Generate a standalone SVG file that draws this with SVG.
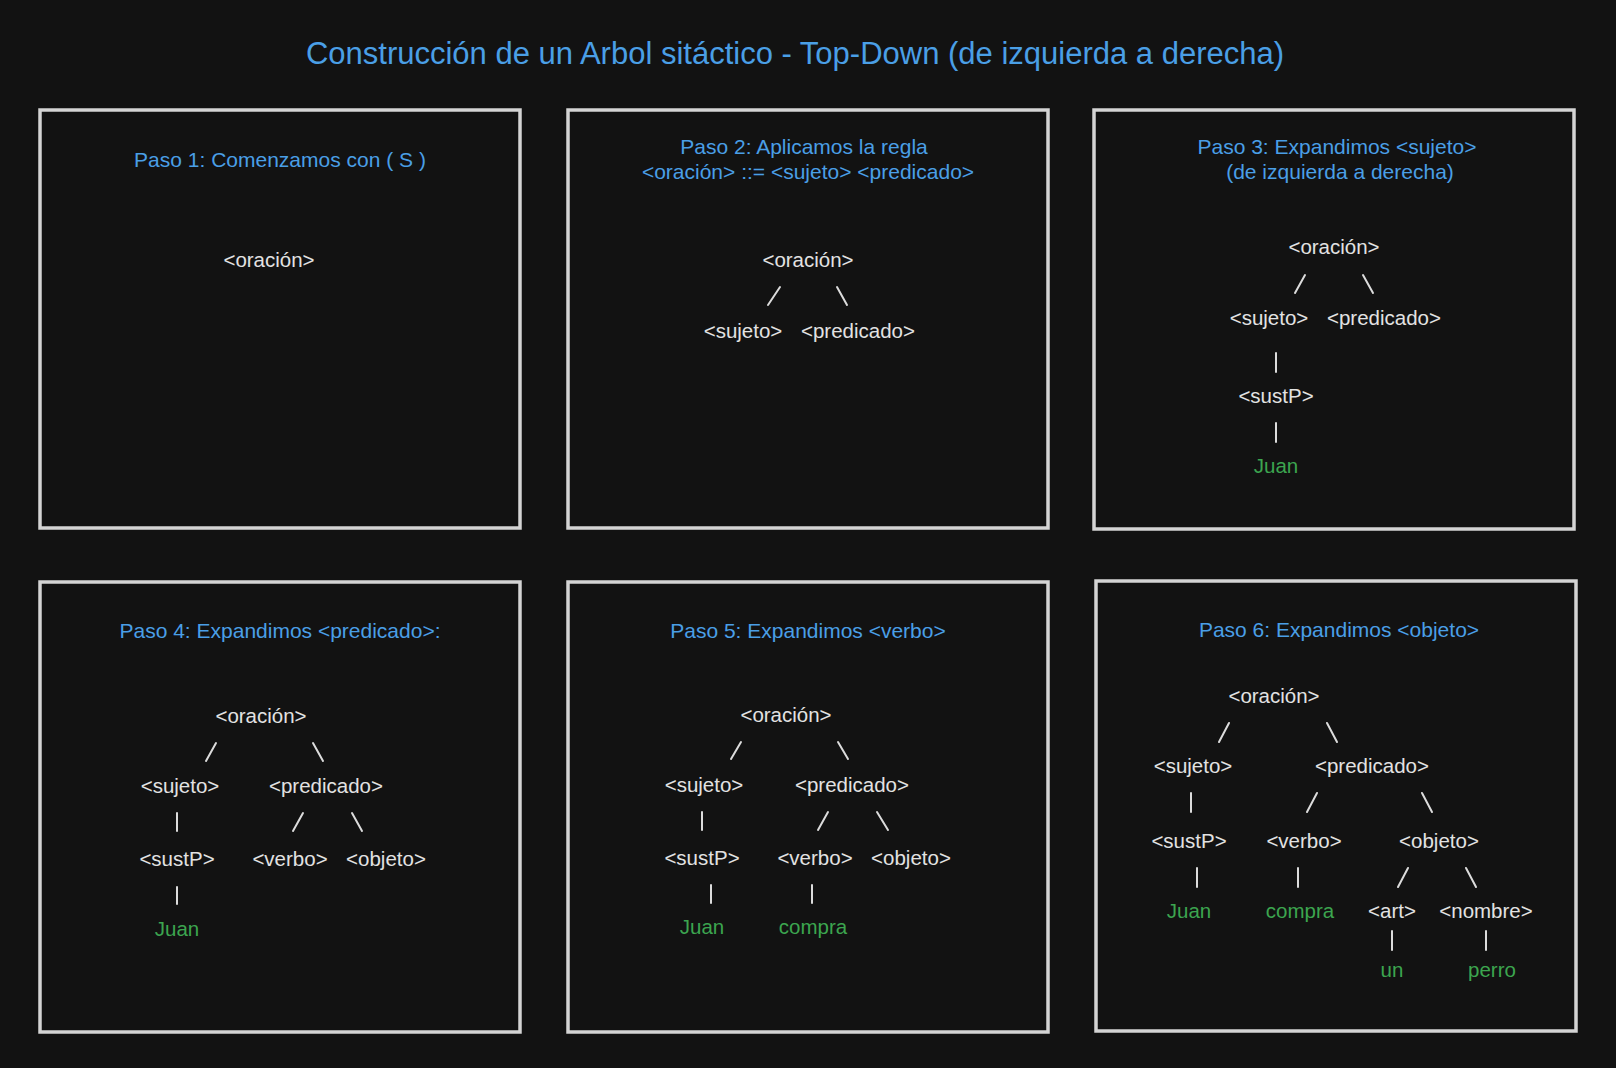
<svg xmlns="http://www.w3.org/2000/svg" width="1616" height="1068" viewBox="0 0 1616 1068">
<style>
.bg{fill:#121212}
.frame{fill:#121212;stroke:#d4d4d4;stroke-width:3.5}
.title{font-family:"Liberation Sans",Arial,sans-serif;font-size:31px;fill:#4a9fe6;text-anchor:middle}
.step{font-family:"Liberation Sans",Arial,sans-serif;font-size:21px;fill:#4a9fe6;text-anchor:middle}
.n{font-family:"Liberation Sans",Arial,sans-serif;font-size:20.5px;fill:#e2e2e2;text-anchor:middle}
.t{font-family:"Liberation Sans",Arial,sans-serif;font-size:20.5px;fill:#3ca54f;text-anchor:middle}
.c line{stroke:#dcdcdc;stroke-width:2;stroke-linecap:round}
</style>
<rect class="bg" x="0" y="0" width="1616" height="1068"/>
<text id="main-title" class="title" x="795" y="64">Construcción de un Arbol sitáctico - Top-Down (de izquierda a derecha)</text>

<g id="panel-1">
<rect class="frame" x="40" y="110" width="480" height="418"/>
<text class="step" x="280" y="167">Paso 1: Comenzamos con ( S )</text>
</g>
<g id="panel-2">
<rect class="frame" x="568" y="110" width="480" height="418"/>
<text class="step" x="804" y="154">Paso 2: Aplicamos la regla</text>
<text class="step" x="808" y="179">&lt;oración&gt; ::= &lt;sujeto&gt; &lt;predicado&gt;</text>
</g>
<g id="panel-3">
<rect class="frame" x="1094" y="110" width="480" height="419"/>
<text class="step" x="1337" y="154">Paso 3: Expandimos &lt;sujeto&gt;</text>
<text class="step" x="1340" y="179">(de izquierda a derecha)</text>
</g>
<g id="panel-4">
<rect class="frame" x="40" y="582" width="480" height="450"/>
<text class="step" x="280" y="638">Paso 4: Expandimos &lt;predicado&gt;:</text>
</g>
<g id="panel-5">
<rect class="frame" x="568" y="582" width="480" height="450"/>
<text class="step" x="808" y="638">Paso 5: Expandimos &lt;verbo&gt;</text>
</g>
<g id="panel-6">
<rect class="frame" x="1096" y="581" width="480" height="450"/>
<text class="step" x="1339" y="637">Paso 6: Expandimos &lt;objeto&gt;</text>
</g>

<g id="p1-oracion"><text class="n" x="269" y="267">&lt;oración&gt;</text></g>

<g id="p2-oracion"><text class="n" x="808" y="267">&lt;oración&gt;</text></g>
<g id="p2-sujeto"><text class="n" x="743" y="338">&lt;sujeto&gt;</text></g>
<g id="p2-predicado"><text class="n" x="858" y="338">&lt;predicado&gt;</text></g>

<g id="p3-oracion"><text class="n" x="1334" y="254">&lt;oración&gt;</text></g>
<g id="p3-sujeto"><text class="n" x="1269" y="325">&lt;sujeto&gt;</text></g>
<g id="p3-predicado"><text class="n" x="1384" y="325">&lt;predicado&gt;</text></g>
<g id="p3-sustP"><text class="n" x="1276" y="403">&lt;sustP&gt;</text></g>
<g id="p3-juan"><text class="t" x="1276" y="473">Juan</text></g>

<g id="p4-oracion"><text class="n" x="261" y="723">&lt;oración&gt;</text></g>
<g id="p4-sujeto"><text class="n" x="180" y="793">&lt;sujeto&gt;</text></g>
<g id="p4-predicado"><text class="n" x="326" y="793">&lt;predicado&gt;</text></g>
<g id="p4-sustP"><text class="n" x="177" y="866">&lt;sustP&gt;</text></g>
<g id="p4-verbo"><text class="n" x="290" y="866">&lt;verbo&gt;</text></g>
<g id="p4-objeto"><text class="n" x="386" y="866">&lt;objeto&gt;</text></g>
<g id="p4-juan"><text class="t" x="177" y="936">Juan</text></g>

<g id="p5-oracion"><text class="n" x="786" y="722">&lt;oración&gt;</text></g>
<g id="p5-sujeto"><text class="n" x="704" y="792">&lt;sujeto&gt;</text></g>
<g id="p5-predicado"><text class="n" x="852" y="792">&lt;predicado&gt;</text></g>
<g id="p5-sustP"><text class="n" x="702" y="865">&lt;sustP&gt;</text></g>
<g id="p5-verbo"><text class="n" x="815" y="865">&lt;verbo&gt;</text></g>
<g id="p5-objeto"><text class="n" x="911" y="865">&lt;objeto&gt;</text></g>
<g id="p5-juan"><text class="t" x="702" y="934">Juan</text></g>
<g id="p5-compra"><text class="t" x="813" y="934">compra</text></g>

<g id="p6-oracion"><text class="n" x="1274" y="703">&lt;oración&gt;</text></g>
<g id="p6-sujeto"><text class="n" x="1193" y="773">&lt;sujeto&gt;</text></g>
<g id="p6-predicado"><text class="n" x="1372" y="773">&lt;predicado&gt;</text></g>
<g id="p6-sustP"><text class="n" x="1189" y="848">&lt;sustP&gt;</text></g>
<g id="p6-verbo"><text class="n" x="1304" y="848">&lt;verbo&gt;</text></g>
<g id="p6-objeto"><text class="n" x="1439" y="848">&lt;objeto&gt;</text></g>
<g id="p6-juan"><text class="t" x="1189" y="918">Juan</text></g>
<g id="p6-compra"><text class="t" x="1300" y="918">compra</text></g>
<g id="p6-art"><text class="n" x="1392" y="918">&lt;art&gt;</text></g>
<g id="p6-nombre"><text class="n" x="1486" y="918">&lt;nombre&gt;</text></g>
<g id="p6-un"><text class="t" x="1392" y="977">un</text></g>
<g id="p6-perro"><text class="t" x="1492" y="977">perro</text></g>

<g id="connectors" class="c">
<line x1="780" y1="287" x2="768" y2="305"/>
<line x1="837" y1="287" x2="847" y2="305"/>

<line x1="1305" y1="275" x2="1295" y2="293"/>
<line x1="1363" y1="275" x2="1373" y2="293"/>
<line x1="1276" y1="353" x2="1276" y2="372"/>
<line x1="1276" y1="423" x2="1276" y2="442"/>

<line x1="216" y1="743" x2="206" y2="761"/>
<line x1="313" y1="743" x2="323" y2="761"/>
<line x1="177" y1="813" x2="177" y2="831"/>
<line x1="303" y1="813" x2="293" y2="831"/>
<line x1="352" y1="813" x2="362" y2="831"/>
<line x1="177" y1="887" x2="177" y2="904"/>

<line x1="741" y1="742" x2="731" y2="759"/>
<line x1="838" y1="742" x2="848" y2="759"/>
<line x1="702" y1="812" x2="702" y2="830"/>
<line x1="828" y1="812" x2="818" y2="830"/>
<line x1="877" y1="812" x2="888" y2="830"/>
<line x1="711" y1="885" x2="711" y2="903"/>
<line x1="812" y1="885" x2="812" y2="903"/>

<line x1="1229" y1="723" x2="1219" y2="742"/>
<line x1="1327" y1="723" x2="1337" y2="742"/>
<line x1="1191" y1="793" x2="1191" y2="812"/>
<line x1="1317" y1="793" x2="1307" y2="812"/>
<line x1="1422" y1="793" x2="1432" y2="812"/>
<line x1="1197" y1="868" x2="1197" y2="887"/>
<line x1="1298" y1="868" x2="1298" y2="887"/>
<line x1="1408" y1="868" x2="1398" y2="887"/>
<line x1="1466" y1="868" x2="1476" y2="887"/>
<line x1="1392" y1="931" x2="1392" y2="950"/>
<line x1="1486" y1="931" x2="1486" y2="950"/>
</g>
</svg>
